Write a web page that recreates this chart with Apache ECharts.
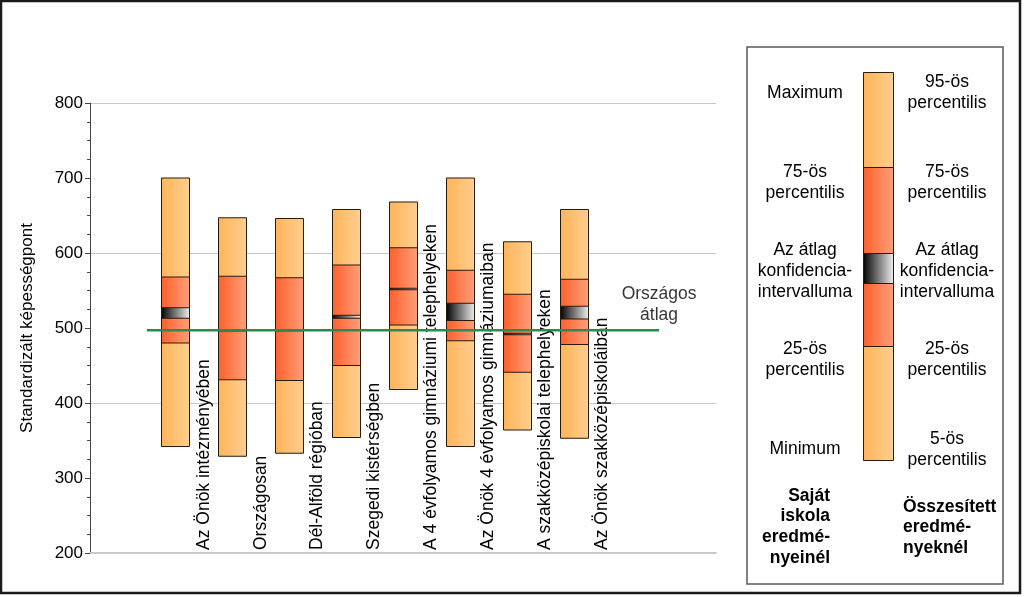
<!DOCTYPE html>
<html>
<head>
<meta charset="utf-8">
<script src="https://cdn.jsdelivr.net/npm/echarts@6/dist/echarts.min.js"></script>
<style>
html,body{margin:0;padding:0;background:#fff;}
#chart{width:1024px;height:597px;}
</style>
</head>
<body>
<div id="chart"></div>
<script>
// ---- data ----
const categories = ['Az Önök intézményében','Országosan','Dél-Alföld régióban','Szegedi kistérségben','A 4 évfolyamos gimnáziumi telephelyeken','Az Önök 4 évfolyamos gimnáziumaiban','A szakközépiskolai telephelyeken','Az Önök szakközépiskoláiban'];
const minVals    = [342, 329, 333, 354, 418, 342, 364, 353];
const p25Vals    = [480, 431, 430, 450, 504, 483, 441, 478];
const ciLowVals  = [513, 496, 496.5, 513, 551, 510, 491, 512];
const ciHighVals = [527, 498, 497.5, 517, 553, 533, 493, 529];
const p75Vals    = [568, 569, 567, 584, 607, 577, 545, 565];
const maxVals    = [700, 647, 646, 658, 668, 700, 615, 658];
const nationalAvg = 497;
const avgLabel = 'Országos\nátlag';
const yAxisName = 'Standardizált képességpont';
const yMin = 200, yMax = 800, yInterval = 100;
const legendLeft = [
  ['Maximum', 93], ['75-ös\npercentilis', 182.5], ['Az átlag\nkonfidencia-\nintervalluma', 271],
  ['25-ös\npercentilis', 360], ['Minimum', 449]
];
const legendRight = [
  ['95-ös\npercentilis', 93], ['75-ös\npercentilis', 182.5], ['Az átlag\nkonfidencia-\nintervalluma', 271],
  ['25-ös\npercentilis', 360], ['5-ös\npercentilis', 449.5]
];
const legendLeftTitle = 'Saját\niskola\neredmé-\nnyeinél';
const legendRightTitle = 'Összesített\neredmé-\nnyeknél';

// ---- styles ----
const FONT = '"Liberation Sans", Arial, sans-serif';
const FS = 17.5;
const G = echarts.graphic.LinearGradient;
const lightGrad = () => new G(0,0,1,0,[{offset:0,color:'#FFB45A'},{offset:1,color:'#FFCF8F'}]);
const redGrad = () => new G(0,0,1,0,[{offset:0,color:'#FF5F2C'},{offset:1,color:'#FFA07A'}]);
const ciGrad = () => new G(0,0,1,0,[{offset:0,color:'#000000'},{offset:1,color:'#F2F2F2'}]);
const STROKE = '#2a1a0a';

const boxData = categories.map((c,i)=>[i+1.5, minVals[i], p25Vals[i], ciLowVals[i], ciHighVals[i], p75Vals[i], maxVals[i]]);
const labelData = categories.map((c,i)=>[i+2, yMin]);

function renderBox(params, api){
  const xv = api.value(0);
  const cx = api.coord([xv, yMin])[0];
  const w = api.size([0.5, 0])[0];
  function rect(lo, hi, fill){
    const yt = api.coord([xv, hi])[1];
    const yb = api.coord([xv, lo])[1];
    return {type:'rect', shape:{x: Math.round(cx - w/2)+0.5, y: yt, width: Math.round(w), height: Math.max(yb-yt, 1)},
      style:{fill: fill, stroke: STROKE, lineWidth: 1}};
  }
  return {type:'group', children:[
    rect(api.value(1), api.value(6), lightGrad()),
    rect(api.value(2), api.value(5), redGrad()),
    rect(api.value(3), api.value(4), ciGrad())
  ]};
}
function renderLabel(params, api){
  const p = api.coord([api.value(0), api.value(1)]);
  return {type:'text', x: p[0], y: p[1] - 3, rotation: Math.PI/2,
    style:{text: categories[params.dataIndex], fill:'#000', font: FS + 'px ' + FONT,
      align:'left', verticalAlign:'middle', textAlign:'left', textVerticalAlign:'middle'}};
}

// legend graphics
const graphics = [];
graphics.push({type:'rect', shape:{x:1,y:1,width:1019,height:592}, style:{fill:'none', stroke:'#1a1a1a', lineWidth:2.5}, silent:true});
graphics.push({type:'rect', shape:{x:747,y:47,width:256,height:537}, style:{fill:'#fff', stroke:'#5a5a5a', lineWidth:1.5}});
const lx = 863, lw = 30;
[[72,167,lightGrad()],[167,253,redGrad()],[253,283,ciGrad()],[283,346,redGrad()],[346,460,lightGrad()]].forEach(s=>{
  graphics.push({type:'rect', shape:{x:lx+0.5,y:s[0]+0.5,width:lw,height:s[1]-s[0]}, style:{fill:s[2], stroke:STROKE, lineWidth:1}});
});
function txt(t, x, y, align, bold){
  return {type:'text', style:{text:t, x:x, y:y, fill:'#000', font:(bold?'bold ':'') + FS + 'px ' + FONT,
    textAlign:align, textVerticalAlign:'middle', align:align, verticalAlign:'middle', lineHeight:20.8}};
}
legendLeft.forEach(d=>graphics.push(txt(d[0], 805, d[1], 'center')));
legendRight.forEach(d=>graphics.push(txt(d[0], 947, d[1], 'center')));
graphics.push(txt(legendLeftTitle, 830, 527, 'right', true));
graphics.push(txt(legendRightTitle, 903, 527.5, 'left', true));

const chart = echarts.init(document.getElementById('chart'), null, {renderer:'canvas'});
chart.setOption({
  animation:false,
  backgroundColor:'#fff',
  textStyle:{fontFamily: FONT},
  grid:{left:90, right:308, top:103, bottom:44, containLabel:false},
  xAxis:{type:'value', min:0, max:11, show:true,
    axisLine:{show:true, lineStyle:{color:'#c8c8c8', width:2}},
    axisTick:{show:false}, axisLabel:{show:false}, splitLine:{show:false}},
  yAxis:[{
    type:'value', min:yMin, max:yMax, interval:yInterval, position:'left',
    name:yAxisName, nameLocation:'middle', nameGap:54,
    nameTextStyle:{fontSize:17, color:'#000', fontFamily:FONT},
    axisLine:{show:true, lineStyle:{color:'#444', width:1}},
    axisTick:{show:true, length:5, lineStyle:{color:'#444'}},
    minorTick:{show:true, splitNumber:4, length:3, lineStyle:{color:'#444'}},
    axisLabel:{fontSize:17, color:'#000', margin:7, fontFamily:FONT},
    splitLine:{show:false}
  },{
    type:'value', min:yMin, max:yMax, interval:200, position:'left',
    axisLine:{show:false}, axisTick:{show:false}, axisLabel:{show:false},
    splitLine:{show:true, lineStyle:{color:'#c8c8c8', width:1}}
  }],
  series:[
    {type:'custom', renderItem:renderBox, data:boxData, encode:{x:0, y:[1,2,3,4,5,6]}, z:2},
    {type:'custom', renderItem:renderLabel, data:labelData, encode:{x:0, y:1}, z:3},
    {type:'line', data:[[1, nationalAvg],[10, nationalAvg]], symbol:'none', z:4,
      lineStyle:{color:'#2b8a4e', width:2.5}},
    {type:'scatter', data:[[10, nationalAvg]], symbolSize:0, z:5,
      label:{show:true, position:'top', distance:5, formatter:avgLabel, color:'#000',
        fontSize:FS, fontFamily:FONT, lineHeight:21, align:'center'}}
  ],
  graphic: graphics
});
</script>
</body>
</html>
